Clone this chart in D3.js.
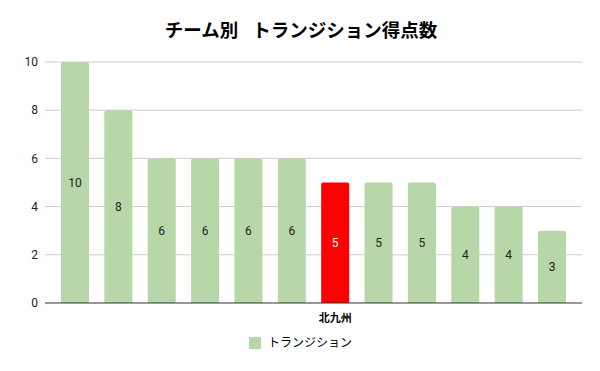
<!DOCTYPE html>
<html>
<head>
<meta charset="utf-8">
<script src="https://cdn.jsdelivr.net/npm/d3@7"></script>
<style>
  body { margin: 0; background: #fff; }
  svg { display: block; font-family: "Noto Sans CJK JP", Roboto, Arial, sans-serif; }
</style>
</head>
<body>
<div id="chart"></div>
<script>
// chart data
const teams = ["", "", "", "", "", "", "北九州", "", "", "", "", ""];
const values = [10, 8, 6, 6, 6, 6, 5, 5, 5, 4, 4, 3];
const highlight = "北九州";
const yTicks = [0, 2, 4, 6, 8, 10];
const seriesName = "トランジション";
const titleParts = ["チーム別", "トランジション得点数"];

const width = 600, height = 371;
const plot = { left: 45, right: 582, top: 62, bottom: 303 };

const svg = d3.select('#chart').append('svg')
    .attr('width', width)
    .attr('height', height);

const xScale = d3.scaleBand()
    .domain(d3.range(values.length))
    .range([53.3, 573.7])
    .paddingInner(0.355)
    .paddingOuter(0.1775);

const yScale = d3.scaleLinear()
    .domain([0, 10])
    .range([plot.bottom, plot.top]);

// title (wide gap between the two parts)
const title = svg.append('text')
    .attr('x', 301)
    .attr('y', 37)
    .attr('text-anchor', 'middle')
    .style('font-size', '18.5px')
    .style('font-weight', 'bold');
title.append('tspan').text(titleParts[0]);
title.append('tspan').attr('dx', 14).text(titleParts[1]);

// gridlines
svg.append('g')
    .selectAll('line')
    .data(yTicks.filter(d => d > 0))
    .join('line')
    .attr('x1', plot.left)
    .attr('x2', plot.right)
    .attr('y1', d => yScale(d))
    .attr('y2', d => yScale(d))
    .attr('stroke', '#cccccc')
    .attr('stroke-width', 1);

// y labels
svg.append('g')
    .selectAll('text')
    .data(yTicks)
    .join('text')
    .attr('x', 38)
    .attr('y', d => yScale(d))
    .attr('dy', '0.35em')
    .attr('text-anchor', 'end')
    .style('font-size', '12px')
    .style('font-family', 'Roboto, Arial, sans-serif')
    .attr('fill', '#222')
    .text(d => d);

// bars with slightly rounded tops
const r = 2;
const barPath = (x, y, w, h) => {
    return `M${x},${y + h} L${x},${y + r} Q${x},${y} ${x + r},${y} L${x + w - r},${y} Q${x + w},${y} ${x + w},${y + r} L${x + w},${y + h} Z`;
};

svg.append('g')
    .selectAll('path')
    .data(values)
    .join('path')
    .attr('d', (d, i) => barPath(xScale(i), yScale(d), xScale.bandwidth(), yScale(0) - yScale(d)))
    .attr('fill', (d, i) => teams[i] === highlight ? '#ff0000' : '#b6d7a8');

// value labels
svg.append('g')
    .selectAll('text')
    .data(values)
    .join('text')
    .attr('x', (d, i) => xScale(i) + xScale.bandwidth() / 2)
    .attr('y', d => (yScale(d) + yScale(0)) / 2)
    .attr('dy', '0.35em')
    .attr('text-anchor', 'middle')
    .style('font-size', '12px')
    .style('font-family', 'Roboto, Arial, sans-serif')
    .attr('fill', (d, i) => teams[i] === highlight ? '#ffffff' : '#222')
    .text(d => d);

// baseline
svg.append('line')
    .attr('x1', plot.left)
    .attr('x2', plot.right)
    .attr('y1', yScale(0))
    .attr('y2', yScale(0))
    .attr('stroke', '#333')
    .attr('stroke-width', 1);

// x labels
svg.append('g')
    .selectAll('text')
    .data(teams)
    .join('text')
    .attr('x', (d, i) => xScale(i) + xScale.bandwidth() / 2)
    .attr('y', 322)
    .attr('text-anchor', 'middle')
    .style('font-size', '11px')
    .style('font-weight', 'bold')
    .text(d => d);

// legend
const legend = svg.append('g').attr('transform', 'translate(249,337)');
legend.append('rect')
    .attr('width', 12)
    .attr('height', 12)
    .attr('fill', '#b6d7a8');
legend.append('text')
    .attr('x', 19)
    .attr('y', 6)
    .attr('dy', '0.35em')
    .style('font-size', '12px')
    .text(seriesName);
</script>
</body>
</html>
